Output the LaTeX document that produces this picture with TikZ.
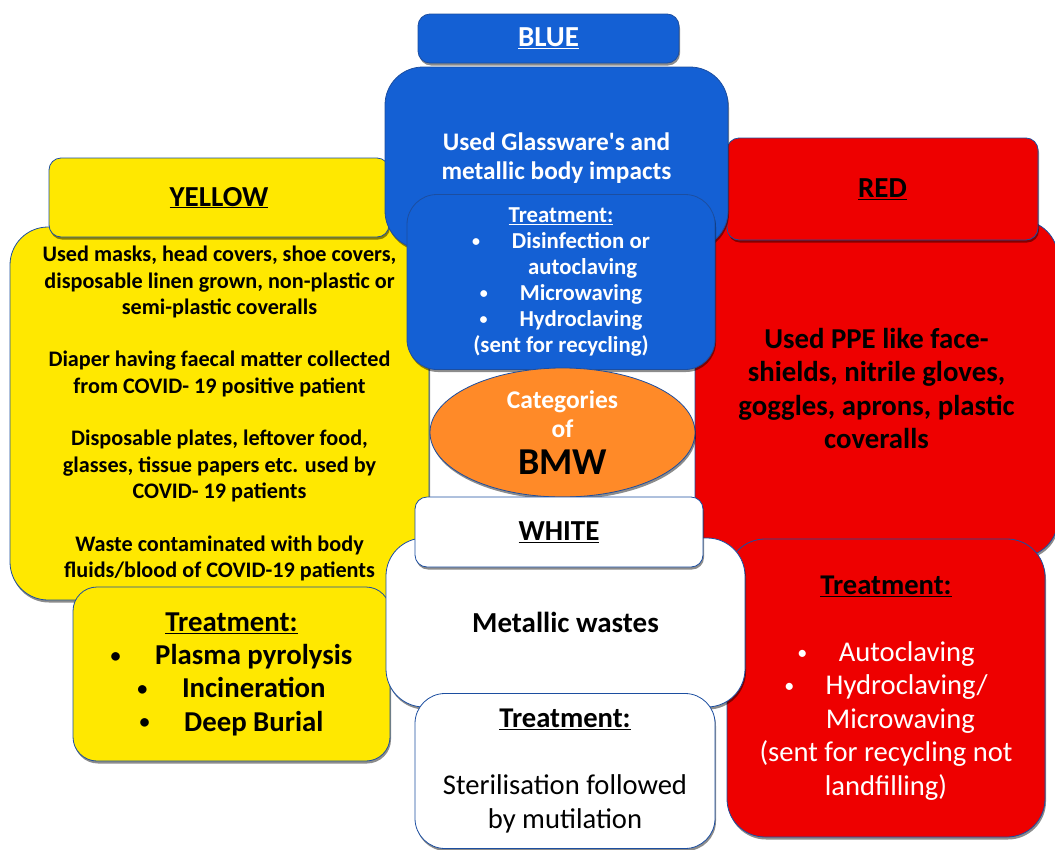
\documentclass[tikz,border=0pt]{standalone}
\usepackage{fontspec}
\setmainfont{Carlito}
\usepackage{xcolor}
\usepackage{graphicx}
\usetikzlibrary{positioning,shadows,shapes.geometric}
\definecolor{bmwblue}{RGB}{20,96,212}
\definecolor{bmwyellow}{RGB}{255,232,0}
\definecolor{bmwred}{RGB}{238,0,0}
\definecolor{bmworange}{RGB}{255,138,40}
\definecolor{bmwedge}{RGB}{28,78,160}
\newcommand{\bmwdot}{\raisebox{0.08em}{\scalebox{0.7}{\textbullet}}}
\tikzset{
  panel/.style={draw=bmwedge, line width=0.8pt, rounded corners=38pt, inner sep=0pt,
                align=center, drop shadow={shadow xshift=1pt, shadow yshift=-2.5pt,
                opacity=0.45, fill=black}},
  tabbox/.style={panel, rounded corners=12pt, text depth=2pt},
  tabfont/.style={font=\fontsize{29}{32}\selectfont\bfseries},
  bodyfont/.style={font=\fontsize{22.2}{26.3}\selectfont\bfseries},
  bigfont/.style={font=\fontsize{28.8}{33.3}\selectfont\bfseries},
  plainfont/.style={font=\fontsize{28.6}{33.5}\selectfont},
}
\begin{document}
\begin{tikzpicture}[x=1pt,y=-1pt]
\useasboundingbox (0,0) rectangle (1055,849);
\node[panel, fill=bmwyellow, minimum width=419, minimum height=373, bodyfont] (ybody) at (219.5,413.5)
  {Used masks, head covers, shoe covers,\\
   disposable linen grown, non-plastic or\\
   semi-plastic coveralls\\[26.3pt]
   Diaper having faecal matter collected\\
   from COVID- 19 positive patient\\[26.3pt]
   Disposable plates, leftover food,\\
   glasses, tissue papers etc. used by\\
   COVID- 19 patients\\[26.3pt]
   Waste contaminated with body\\
   fluids/blood of COVID-19 patients};
\node[tabbox, fill=bmwyellow, minimum width=340, minimum height=79, tabfont] (ytitle) at (219,197.5)
  {\underline{YELLOW}};
\node[panel, fill=bmwred, minimum width=363, minimum height=337, bigfont] (rbody) at (876.5,388.5)
  {Used PPE like face-\\shields, nitrile gloves,\\goggles, aprons, plastic\\coveralls};
\node[tabbox, fill=bmwred, minimum width=311, minimum height=102, tabfont] (rtitle) at (882.5,189)
  {\underline{RED}};
\node[panel, fill=bmwyellow, rounded corners=24pt, minimum width=317, minimum height=174, bigfont] (ytreat) at (231.5,674)
  {\underline{Treatment:}\\
   \bmwdot\hspace{1.2em}Plasma pyrolysis\\
   \bmwdot\hspace{1.2em}Incineration\\
   \bmwdot\hspace{1.2em}Deep Burial};
\node[panel, fill=bmwred, minimum width=318, minimum height=298, plainfont, text=white] (rtreat) at (886,688)
  {{\bfseries\color{black}\underline{Treatment:}}\\[33.5pt]
   \bmwdot\hspace{1.1em}Autoclaving\\
   \bmwdot\hspace{1.1em}Hydroclaving/\\
   \hspace*{1em}Microwaving\\
   (sent for recycling not\\
   landfilling)};
\node[panel, fill=bmwblue, minimum width=343, minimum height=182, text=white,
      font=\fontsize{25.3}{29}\selectfont\bfseries] (bbody) at (556.5,158)
  {Used Glassware\textquotesingle s and\\metallic body impacts};
\node[tabbox, fill=bmwblue, minimum width=261, minimum height=49, tabfont, text=white] (btitle) at (548.5,38.5)
  {\underline{BLUE}};
\node[panel, fill=bmwblue, rounded corners=30pt, minimum width=308, minimum height=175, text=white,
      font=\fontsize{22.8}{26}\selectfont\bfseries] (btreat) at (561,282)
  {\underline{Treatment:}\\
   \bmwdot\hspace{1.4em}Disinfection or\\
   \hspace*{1.9em}autoclaving\\
   \bmwdot\hspace{1.4em}Microwaving\\
   \bmwdot\hspace{1.4em}Hydroclaving\\
   (sent for recycling)};
\node[ellipse, draw=bmwedge, line width=0.8pt, fill=bmworange, minimum width=265, minimum height=129,
      inner sep=0pt, align=center, font=\fontsize{25.5}{29}\selectfont\bfseries, text=white,
      drop shadow={shadow xshift=1pt, shadow yshift=-2.5pt, opacity=0.45, fill=black}] (bmw) at (562.5,432.5)
  {Categories\\of\\[8pt]{\color{black}\fontsize{38}{38}\selectfont BMW}};
\node[panel, fill=white, minimum width=359, minimum height=169, font=\fontsize{29}{32}\selectfont\bfseries] (wbody) at (565.5,622.5)
  {Metallic wastes};
\node[tabbox, fill=white, minimum width=288, minimum height=70, tabfont] (wtitle) at (559,532)
  {\underline{WHITE}};
\node[panel, fill=white, rounded corners=30pt, minimum width=300, minimum height=155, plainfont] (wtreat) at (565,771)
  {{\bfseries\underline{Treatment:}}\\[33.5pt]
   Sterilisation followed\\by mutilation};
\end{tikzpicture}
\end{document}
